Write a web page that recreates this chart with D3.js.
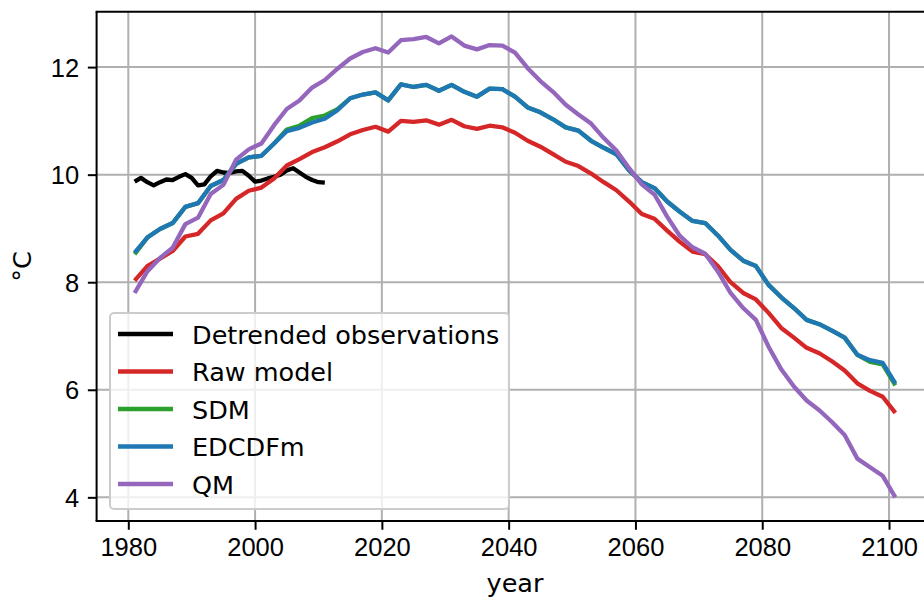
<!DOCTYPE html>
<html>
<head>
<meta charset="utf-8">
<script src="https://cdn.jsdelivr.net/npm/d3@7"></script>
<style>
  body { margin: 0; background: #fff; }
  svg { display: block; font-family: "DejaVu Sans", sans-serif; }
  .tick text { font-size: 25.5px; fill: #000; }
  .grid line { stroke: #b0b0b0; stroke-width: 2; }
  .spine { stroke: #000; stroke-width: 2; }
  .series { fill: none; stroke-width: 4.3; stroke-linejoin: round; }
</style>
</head>
<body>
<div id="wrapper"></div>
<script>
// model years (every second year), observation years
const modelYears = d3.range(1981, 2102, 2)
const obsYears = d3.range(1981, 2012)

const obsValues = [9.87, 9.94, 9.86, 9.80, 9.86, 9.91, 9.90, 9.96, 10.01, 9.94,
  9.80, 9.82, 9.97, 10.07, 10.04, 10.03, 10.06, 10.07, 9.98, 9.87,
  9.89, 9.93, 9.96, 10.00, 10.08, 10.12, 10.04, 9.96, 9.90, 9.86, 9.85]

const rawValues = [8.03, 8.30, 8.44, 8.58, 8.85, 8.90, 9.15, 9.28, 9.55, 9.70,
  9.76, 9.93, 10.17, 10.29, 10.42, 10.51, 10.62, 10.75, 10.83, 10.89,
  10.80, 11.00, 10.98, 11.01, 10.93, 11.02, 10.90, 10.85, 10.91, 10.88,
  10.78, 10.63, 10.52, 10.38, 10.24, 10.16, 10.02, 9.86, 9.71, 9.50,
  9.27, 9.18, 8.96, 8.75, 8.57, 8.52, 8.30, 8.00, 7.80, 7.68,
  7.43, 7.15, 6.97, 6.78, 6.68, 6.53, 6.36, 6.12, 5.98, 5.87, 5.57]

const edcdfmValues = [8.55, 8.83, 8.99, 9.10, 9.40, 9.47, 9.79, 9.90, 10.20, 10.32,
  10.35, 10.58, 10.81, 10.87, 10.97, 11.04, 11.20, 11.42, 11.49, 11.53,
  11.38, 11.68, 11.63, 11.67, 11.56, 11.67, 11.54, 11.45, 11.60, 11.59,
  11.45, 11.25, 11.16, 11.03, 10.88, 10.82, 10.63, 10.50, 10.38, 10.08,
  9.86, 9.75, 9.50, 9.31, 9.14, 9.10, 8.87, 8.60, 8.40, 8.30,
  7.95, 7.72, 7.52, 7.30, 7.22, 7.10, 6.97, 6.65, 6.55, 6.50, 6.12]

const sdmValues = [8.52, 8.83, 8.99, 9.10, 9.40, 9.47, 9.79, 9.90, 10.20, 10.32,
  10.35, 10.58, 10.84, 10.91, 11.05, 11.10, 11.22, 11.42, 11.49, 11.53,
  11.38, 11.68, 11.63, 11.67, 11.56, 11.67, 11.54, 11.45, 11.60, 11.59,
  11.45, 11.25, 11.16, 11.03, 10.88, 10.82, 10.63, 10.50, 10.38, 10.08,
  9.86, 9.75, 9.50, 9.31, 9.14, 9.10, 8.87, 8.60, 8.40, 8.30,
  7.95, 7.72, 7.52, 7.30, 7.22, 7.10, 6.97, 6.65, 6.52, 6.47, 6.08]

const qmValues = [7.80, 8.20, 8.45, 8.64, 9.08, 9.20, 9.64, 9.81, 10.28, 10.47,
  10.58, 10.92, 11.22, 11.38, 11.62, 11.76, 11.97, 12.16, 12.28, 12.35,
  12.27, 12.50, 12.52, 12.56, 12.44, 12.57, 12.40, 12.33, 12.41, 12.40,
  12.27, 11.98, 11.74, 11.54, 11.30, 11.12, 10.95, 10.68, 10.45, 10.12,
  9.82, 9.63, 9.22, 8.86, 8.65, 8.53, 8.20, 7.80, 7.52, 7.30,
  6.80, 6.38, 6.06, 5.80, 5.62, 5.40, 5.16, 4.72, 4.56, 4.40, 4.00]

const seriesNames = ["Detrended observations", "Raw model", "SDM", "EDCDFm", "QM"]
const seriesColors = ["#000000", "#d62728", "#2ca02c", "#1f77b4", "#9467bd"]

const xTicks = [1980, 2000, 2020, 2040, 2060, 2080, 2100]
const yTicks = [4, 6, 8, 10, 12]

function drawChart() {

  // 1. Access data
  const series = [
    { years: obsYears, values: obsValues },
    { years: modelYears, values: rawValues },
    { years: modelYears, values: sdmValues },
    { years: modelYears, values: edcdfmValues },
    { years: modelYears, values: qmValues },
  ].map((s, i) => ({
    name: seriesNames[i],
    color: seriesColors[i],
    points: s.years.map((y, j) => ({ year: y, value: s.values[j] })),
  }))

  const xAccessor = d => d.year
  const yAccessor = d => d.value

  // 2. Create chart dimensions
  let dimensions = {
    width: 924,
    height: 601,
    margin: { top: 11.7, left: 96.6, bottom: 80 },
  }
  dimensions.boundedWidth = 836.8
  dimensions.boundedHeight = dimensions.height
    - dimensions.margin.top
    - dimensions.margin.bottom

  // 3. Draw canvas
  const wrapper = d3.select("#wrapper")
    .append("svg")
      .attr("width", dimensions.width)
      .attr("height", dimensions.height)

  const bounds = wrapper.append("g")
      .attr("transform", `translate(${dimensions.margin.left}, ${dimensions.margin.top})`)

  // 4. Create scales
  const xScale = d3.scaleLinear()
    .domain([1975, 2107])
    .range([0, dimensions.boundedWidth])

  const yScale = d3.scaleLinear()
    .domain([3.56, 13.03])
    .range([dimensions.boundedHeight, 0])

  // grid
  const grid = bounds.append("g").attr("class", "grid")
  grid.selectAll(".gx")
    .data(xTicks)
    .join("line")
      .attr("x1", d => xScale(d))
      .attr("x2", d => xScale(d))
      .attr("y1", 0)
      .attr("y2", dimensions.boundedHeight)
  grid.selectAll(".gy")
    .data(yTicks)
    .join("line")
      .attr("class", "gy")
      .attr("x1", 0)
      .attr("x2", dimensions.boundedWidth)
      .attr("y1", d => yScale(d))
      .attr("y2", d => yScale(d))

  // 5. Draw data
  const lineGenerator = d3.line()
    .x(d => xScale(xAccessor(d)))
    .y(d => yScale(yAccessor(d)))

  bounds.selectAll(".series")
    .data(series)
    .join("path")
      .attr("class", "series")
      .attr("d", d => lineGenerator(d.points))
      .attr("stroke", d => d.color)

  // 6. Draw peripherals
  const xAxis = bounds.append("g")
      .attr("transform", `translate(0, ${dimensions.boundedHeight})`)
      .call(d3.axisBottom(xScale)
        .tickValues(xTicks)
        .tickFormat(d3.format("d"))
        .tickSize(8.75)
        .tickPadding(8))
  xAxis.select(".domain").remove()
  xAxis.selectAll(".tick line").attr("stroke", "#000").attr("stroke-width", 2)

  const yAxis = bounds.append("g")
      .call(d3.axisLeft(yScale)
        .tickValues(yTicks)
        .tickSize(8.75)
        .tickPadding(8.75))
  yAxis.select(".domain").remove()
  yAxis.selectAll(".tick line").attr("stroke", "#000").attr("stroke-width", 2)
  yAxis.selectAll(".tick text").attr("dy", "0.36em")

  // spines
  bounds.append("line").attr("class", "spine")
      .attr("x1", 0).attr("x2", 0)
      .attr("y1", 0).attr("y2", dimensions.boundedHeight)
  bounds.append("line").attr("class", "spine")
      .attr("x1", -1).attr("x2", dimensions.boundedWidth)
      .attr("y1", dimensions.boundedHeight).attr("y2", dimensions.boundedHeight)
  bounds.append("line").attr("class", "spine")
      .attr("x1", -1).attr("x2", dimensions.boundedWidth)
      .attr("y1", 0).attr("y2", 0)

  wrapper.append("text")
      .attr("x", xScale(2041) + dimensions.margin.left)
      .attr("y", 592)
      .attr("text-anchor", "middle")
      .style("font-size", "25.5px")
      .text("year")

  wrapper.append("text")
      .attr("transform", `translate(31, ${dimensions.margin.top + dimensions.boundedHeight / 2}) rotate(-90)`)
      .attr("text-anchor", "middle")
      .style("font-size", "25.5px")
      .text("°C")

  // legend
  const legend = wrapper.append("g")
      .attr("transform", "translate(110, 313)")

  legend.append("rect")
      .attr("width", 399)
      .attr("height", 196)
      .attr("rx", 4)
      .attr("fill", "#fff")
      .attr("fill-opacity", 0.8)
      .attr("stroke", "#cccccc")
      .attr("stroke-width", 2)

  const legendItems = legend.selectAll(".item")
    .data(series)
    .join("g")
      .attr("transform", (d, i) => `translate(0, ${21 + i * 37.5})`)

  legendItems.append("line")
      .attr("x1", 8)
      .attr("x2", 63)
      .attr("stroke", d => d.color)
      .attr("stroke-width", 4.3)

  legendItems.append("text")
      .attr("x", 82)
      .attr("y", 9.5)
      .style("font-size", "25.5px")
      .text(d => d.name)
}
drawChart()
</script>
</body>
</html>
